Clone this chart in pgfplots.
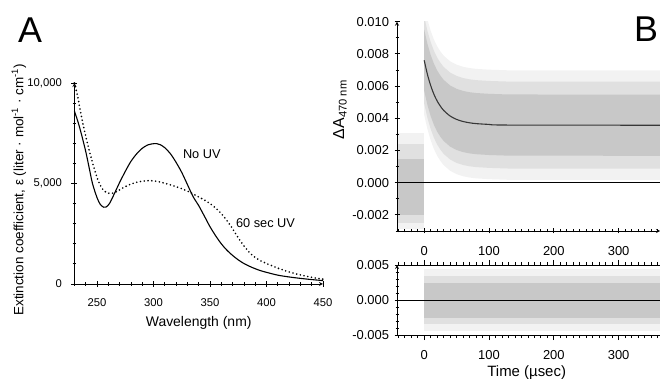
\documentclass[border=0pt]{standalone}
\usepackage{fontspec}
\setmainfont{Liberation Sans}
\usepackage{pgfplots}
\pgfplotsset{compat=1.18}
\definecolor{dense}{RGB}{200,200,200}
\definecolor{mid}{RGB}{224,224,224}
\definecolor{sparse}{RGB}{242,242,242}
\definecolor{fitc}{RGB}{55,55,55}
\begin{document}
\begin{tikzpicture}
\useasboundingbox (0bp,0bp) rectangle (660bp,379bp);
\pgfplotsset{every axis/.append style={
  scale only axis, anchor=south west, axis on top,
  axis line style={-, line width=0.8bp},
  every tick/.style={line width=0.8bp, black},
  tick align=outside, scaled ticks=false,
  /pgf/number format/assume math mode=true}}

% ---------------- Panel A ----------------
\begin{axis}[at={(74.4bp,95bp)}, width=248.6bp, height=201bp,
  xmin=230, xmax=450, ymin=0, ymax=10000,
  axis x line=bottom, axis y line=left,
  xtick={250,300,350,400,450}, minor xtick={230,240,...,450},
  ytick={0,5000,10000}, yticklabels={0,{5,000},{10,000}},
  minor ytick={1000,2000,3000,4000,6000,7000,8000,9000},
  major tick length=6bp, minor tick length=3.5bp,
  tick label style={font=\fontsize{11.3}{13}\selectfont},
  xticklabel shift=8bp, yticklabel shift=6bp,
  xlabel={Wavelength (nm)},
  xlabel style={font=\fontsize{14}{16}\selectfont, at={(axis description cs:0.5,-0.193)}, anchor=center},
  ylabel={Extinction coefficient, ε (liter · mol\textsuperscript{-1} · cm\textsuperscript{-1})},
  ylabel style={font=\fontsize{13.5}{15}\selectfont, at={(axis description cs:-0.223,0.468)}, anchor=center},
  clip=false]
\addplot[black, line width=1.1bp, smooth] coordinates {
(230,8600) (233,8100) (236,7500) (240,6600) (243,5800) (246,5000) (250,4300)
(253,3950) (256,3820) (258,3830) (261,4000) (265,4450) (270,5050) (275,5600)
(280,6100) (285,6470) (290,6750) (295,6920) (300,6980) (303,6980) (306,6930)
(310,6780) (315,6480) (320,6050) (325,5550) (330,4950) (335,4350) (340,3900)
(345,3380) (350,2850) (355,2400) (360,2000) (365,1680) (370,1420) (375,1200)
(380,1020) (385,880) (390,760) (395,660) (400,580) (410,440) (420,350)
(430,280) (440,220) (450,170)};
\addplot[black, line width=1.8bp, line cap=round, dash pattern=on 0bp off 3.8bp, smooth] coordinates {
(230,10000) (233,9300) (236,8400) (239,7600) (242,6900) (245,6250) (248,5650)
(251,5150) (254,4800) (257,4600) (260,4520) (264,4520) (268,4620) (272,4750)
(276,4870) (280,4970) (285,5060) (290,5110) (295,5140) (300,5130) (305,5080)
(310,5010) (315,4930) (320,4840) (325,4740) (330,4620) (335,4480) (340,4330)
(345,4180) (350,4000) (355,3780) (360,3500) (365,3150) (370,2750) (375,2300)
(380,1900) (385,1560) (390,1320) (395,1150) (400,1020) (410,790) (420,600)
(430,450) (440,330) (450,240)};
\node[anchor=west, font=\fontsize{12.8}{14}\selectfont] at (axis cs:323,6470) {No UV};
\node[anchor=west, font=\fontsize{12.8}{14}\selectfont] at (axis cs:370,3050) {60 sec UV};
\end{axis}

% ---------------- Panel B (top) ----------------
\begin{axis}[at={(397bp,148bp)}, width=263.1bp, height=209.3bp,
  xmin=-42, xmax=364, ymin=-0.003, ymax=0.010,
  axis x line=bottom, axis y line=left,
  xtick={0,100,200,300}, minor xtick={-40,-30,...,360},
  ytick={-0.002,0,0.002,0.004,0.006,0.008,0.010},
  yticklabels={-0.002,0.000,0.002,0.004,0.006,0.008,0.010},
  minor ytick={-0.003,-0.001,0.001,0.003,0.005,0.007,0.009},
  major tick length=5bp, minor tick length=3bp,
  tick label style={font=\fontsize{13}{15}\selectfont},
  xticklabel shift=9bp, yticklabel shift=2bp,
  ylabel={ΔA\textsubscript{470 nm}},
  ylabel style={font=\fontsize{16}{18}\selectfont, at={(axis description cs:-0.217,0.58)}, anchor=center}]
% pre-trigger cloud
\addplot[fill=sparse, draw=none] coordinates {
(-42,0.0031) (0,0.0031) (0,-0.0029) (-42,-0.0029)} -- cycle;
\addplot[fill=mid, draw=none] coordinates {
(-42,0.0024) (0,0.0024) (0,-0.0025) (-42,-0.0025)} -- cycle;
\addplot[fill=dense, draw=none] coordinates {
(-42,0.0015) (0,0.0015) (0,-0.0020) (-42,-0.0020)} -- cycle;
% post-trigger cloud: sparse outliers
\addplot[fill=sparse, draw=none] coordinates {
(0,0.0110) (5,0.01012) (10,0.00943) (15,0.00889) (20,0.00847) (25,0.00815)
(30,0.00789) (40,0.00754) (50,0.00733) (60,0.0072) (70,0.00712) (80,0.00707)
(100,0.00702) (130,0.00698) (364,0.00697)
(364,0.00017) (130,0.00018) (100,0.00022) (80,0.00027) (70,0.00032) (60,0.0004)
(50,0.00053) (40,0.00074) (30,0.00109) (25,0.00135) (20,0.00167) (15,0.00209)
(10,0.00263) (5,0.00332) (0,0.0042)} -- cycle;
% medium density
\addplot[fill=mid, draw=none] coordinates {
(0,0.0103) (5,0.00942) (10,0.00873) (15,0.00819) (20,0.00777) (25,0.00745)
(30,0.00719) (40,0.00684) (50,0.00663) (60,0.0065) (70,0.00642) (80,0.00637)
(100,0.00632) (130,0.00628) (364,0.00627)
(364,0.00087) (130,0.00088) (100,0.00092) (80,0.00097) (70,0.00102) (60,0.0011)
(50,0.00123) (40,0.00144) (30,0.00179) (25,0.00205) (20,0.00237) (15,0.00279)
(10,0.00333) (5,0.00402) (0,0.0049)} -- cycle;
% dense core
\addplot[fill=dense, draw=none] coordinates {
(0,0.0095) (5,0.00862) (10,0.00793) (15,0.00739) (20,0.00697) (25,0.00665)
(30,0.00639) (40,0.00604) (50,0.00583) (60,0.0057) (70,0.00562) (80,0.00557)
(100,0.00552) (130,0.00548) (364,0.00547)
(364,0.00167) (130,0.00168) (100,0.00172) (80,0.00177) (70,0.00182) (60,0.0019)
(50,0.00203) (40,0.00224) (30,0.00259) (25,0.00285) (20,0.00317) (15,0.00359)
(10,0.00413) (5,0.00482) (0,0.0057)} -- cycle;
\addplot[black, line width=0.8bp] coordinates {(-42,0) (364,0)};
\addplot[fitc, line width=1.1bp, smooth] coordinates {
(0,0.0076) (5,0.00672) (10,0.00603) (15,0.00549) (20,0.00507) (25,0.00475)
(30,0.00449) (40,0.00414) (50,0.00393) (60,0.0038) (70,0.00372) (80,0.00367)
(100,0.00362) (130,0.00358) (364,0.00357)};
\end{axis}

% ---------------- Panel B (residuals) ----------------
\begin{axis}[at={(397bp,44bp)}, width=263.1bp, height=70bp,
  xmin=-42, xmax=364, ymin=-0.005, ymax=0.005,
  axis x line=box, axis y line=left,
  xtick={0,100,200,300}, minor xtick={-40,-30,...,360},
  ytick={-0.005,0,0.005}, yticklabels={-0.005,0.000,0.005},
  minor ytick={-0.004,-0.003,-0.002,-0.001,0.001,0.002,0.003,0.004},
  major tick length=5bp, minor tick length=3bp,
  tick label style={font=\fontsize{13}{15}\selectfont},
  xticklabel shift=7bp, yticklabel shift=2bp,
  xlabel={Time (µsec)},
  xlabel style={font=\fontsize{15}{17}\selectfont, at={(axis description cs:0.493,-0.539)}, anchor=center}]
\addplot[fill=sparse, draw=none] coordinates {
(0,0.0044) (364,0.0044) (364,-0.0044) (0,-0.0044)} -- cycle;
\addplot[fill=mid, draw=none] coordinates {
(0,0.0034) (364,0.0034) (364,-0.0035) (0,-0.0035)} -- cycle;
\addplot[fill=dense, draw=none] coordinates {
(0,0.0024) (364,0.0024) (364,-0.0026) (0,-0.0026)} -- cycle;
\addplot[black, line width=0.8bp] coordinates {(-42,0) (364,0)};
\end{axis}

\node[anchor=base west, font=\fontsize{36}{40}\selectfont, inner sep=0pt] at (18bp,336bp) {A};
\node[anchor=base west, font=\fontsize{36}{40}\selectfont, inner sep=0pt] at (634bp,337bp) {B};
\end{tikzpicture}
\end{document}
